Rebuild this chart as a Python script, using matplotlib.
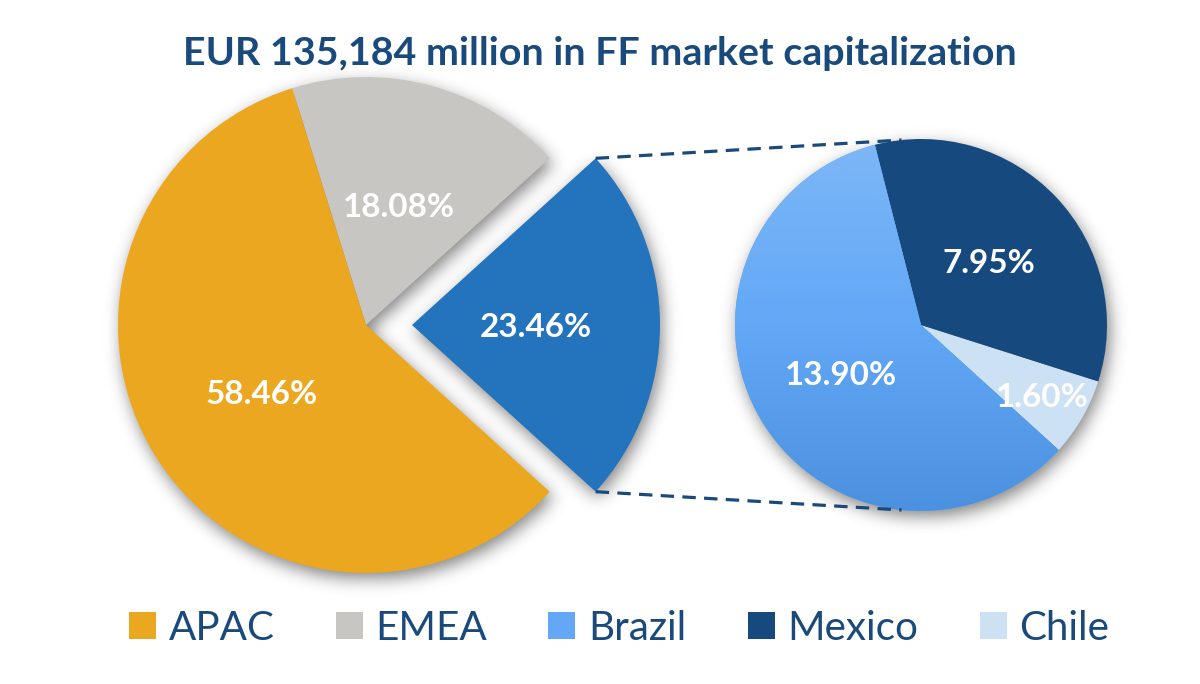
import numpy as np
import matplotlib
matplotlib.use("Agg")
import matplotlib.pyplot as plt
from matplotlib.patches import Patch
from matplotlib.colors import LinearSegmentedColormap

# ---------------- data ----------------
title = "EUR 135,184 million in FF market capitalization"
main_labels = ["LatAm", "EMEA", "APAC"]
main_values = [23.46, 18.08, 58.46]
sub_labels = ["Chile", "Mexico", "Brazil"]
sub_values = [1.60, 7.95, 13.90]
legend_labels = ["APAC", "EMEA", "Brazil", "Mexico", "Chile"]

# ---------------- style ----------------
C_APAC = "#EBA71F"
C_EMEA = "#C7C6C2"
C_LATAM = "#2474BD"
C_MEX = "#164A7F"
C_CHILE = "#CDE1F5"
C_BRA = "#62A8F6"
TXT = "#1A4A7C"

plt.rcParams['font.family'] = ['Lato', 'DejaVu Sans']

W, H = 1200, 684
fig = plt.figure(figsize=(12, 6.84), dpi=100)
ax = fig.add_axes([0, 0, 1, 1])
ax.set_autoscale_on(False)
ax.set_xlim(0, W)
ax.set_ylim(0, H)
ax.axis('off')
renderer = fig.canvas.get_renderer()

c1 = (366, H - 325)
r1 = 248
c2 = (921, H - 325)
r2 = 186
explode_px = 46

main_total = sum(main_values)
sub_total = sum(sub_values)
start1 = -main_values[0] / main_total * 360 / 2
start2 = start1

lab_fs = 22
tp = dict(color='white', fontweight='bold', fontsize=lab_fs, va='center_baseline')

w1, _, a1 = ax.pie(main_values, colors=[C_LATAM, C_EMEA, C_APAC], startangle=start1,
                   center=c1, radius=r1, explode=[explode_px, 0, 0], counterclock=True,
                   wedgeprops=dict(linewidth=0), frame=True, pctdistance=0.5,
                   autopct=lambda p: f"{p * main_total / 100:.2f}%", textprops=tp)
w2, _, a2 = ax.pie(sub_values, colors=[C_CHILE, C_MEX, C_BRA], startangle=start2,
                   center=c2, radius=r2, counterclock=True,
                   wedgeprops=dict(linewidth=0), frame=True, pctdistance=0.5,
                   autopct=lambda p: f"{p * sub_total / 100:.2f}%", textprops=tp)

# Chile label sits further out
wc = w2[0]
thm = np.deg2rad((wc.theta1 + wc.theta2) / 2)
a2[0].set_position((wc.center[0] + 0.75 * r2 * np.cos(thm), wc.center[1] + 0.75 * r2 * np.sin(thm)))

# Brazil gradient
wb = w2[2]
grad = np.linspace(0, 1, 256).reshape(-1, 1)
cmap = LinearSegmentedColormap.from_list('bra', ['#7DB7F6', '#62A8F6', '#4C91E0'])
im = ax.imshow(grad, cmap=cmap, extent=(c2[0] - r2, c2[0] + r2, c2[1] - r2, c2[1] + r2),
               origin='upper', aspect='auto', zorder=1.5, interpolation='bilinear')
im.set_clip_path(wb)

# soft drop shadow
step = 2
xs = np.arange(0, W, step) + step / 2
ys = np.arange(0, H, step) + step / 2
X, Y = np.meshgrid(xs, ys)
pts = np.column_stack([X.ravel(), Y.ravel()])
dx, dy = 3, -6
mask = np.zeros(len(pts), bool)
for w in list(w1) + list(w2):
    p = w.get_path().transformed(w.get_patch_transform())
    mask |= p.contains_points(pts - np.array([dx, dy]))
mask = mask.reshape(X.shape).astype(float)
sigma = 8 / step
kx = np.arange(-int(3 * sigma), int(3 * sigma) + 1)
k = np.exp(-0.5 * (kx / sigma) ** 2)
k /= k.sum()
blur = np.apply_along_axis(lambda m: np.convolve(m, k, mode='same'), 0, mask)
blur = np.apply_along_axis(lambda m: np.convolve(m, k, mode='same'), 1, blur)
rgba = np.zeros(X.shape + (4,))
rgba[..., :3] = 0.2
rgba[..., 3] = blur * 0.6
ax.imshow(rgba, extent=(0, W, 0, H), origin='lower', zorder=0.5, interpolation='bilinear', aspect='auto')

# connector lines
wl = w1[0]
ang_end = 96.0
for th, the in [(wl.theta2, ang_end), (wl.theta1, -ang_end)]:
    t = np.deg2rad(th)
    te = np.deg2rad(the)
    p0 = (wl.center[0] + r1 * np.cos(t), wl.center[1] + r1 * np.sin(t))
    p1 = (c2[0] + r2 * np.cos(te), c2[1] + r2 * np.sin(te))
    ax.plot([p0[0], p1[0]], [p0[1], p1[1]], color=TXT, lw=2.3,
            linestyle=(0, (4.2, 2.6)), solid_capstyle='butt', zorder=3)

# fit label font size so that "23.46%" is ~110 px wide
bb = a1[0].get_window_extent(renderer)
fs = lab_fs * 112 / bb.width
for t in list(a1) + list(a2):
    t.set_fontsize(fs)

# title
tt = fig.text(0.5, 1 - 65 / H, title, ha='center', va='baseline', fontsize=26,
              fontweight='bold', color=TXT)
bb = tt.get_window_extent(renderer)
tt.set_fontsize(26 * 835 / bb.width)

# legend
probe = fig.text(0, 0, "APAC", fontsize=28)
bb = probe.get_window_extent(renderer)
leg_fs = 28 * 106 / bb.width
probe.remove()
handles = [Patch(facecolor=c, edgecolor='none') for c in [C_APAC, C_EMEA, C_BRA, C_MEX, C_CHILE]]
em_px = leg_fs * 100 / 72
fig.legend(handles, legend_labels, loc='center', bbox_to_anchor=(619 / W, 1 - 628 / H),
           ncol=5, frameon=False, fontsize=leg_fs, labelcolor=TXT,
           handlelength=27 / em_px, handleheight=26 / em_px, handletextpad=13 / em_px,
           columnspacing=61 / em_px, borderpad=0, borderaxespad=0)

ax.set_xlim(0, W)
ax.set_ylim(0, H)
fig.savefig("out.png", dpi=100, facecolor='white')
